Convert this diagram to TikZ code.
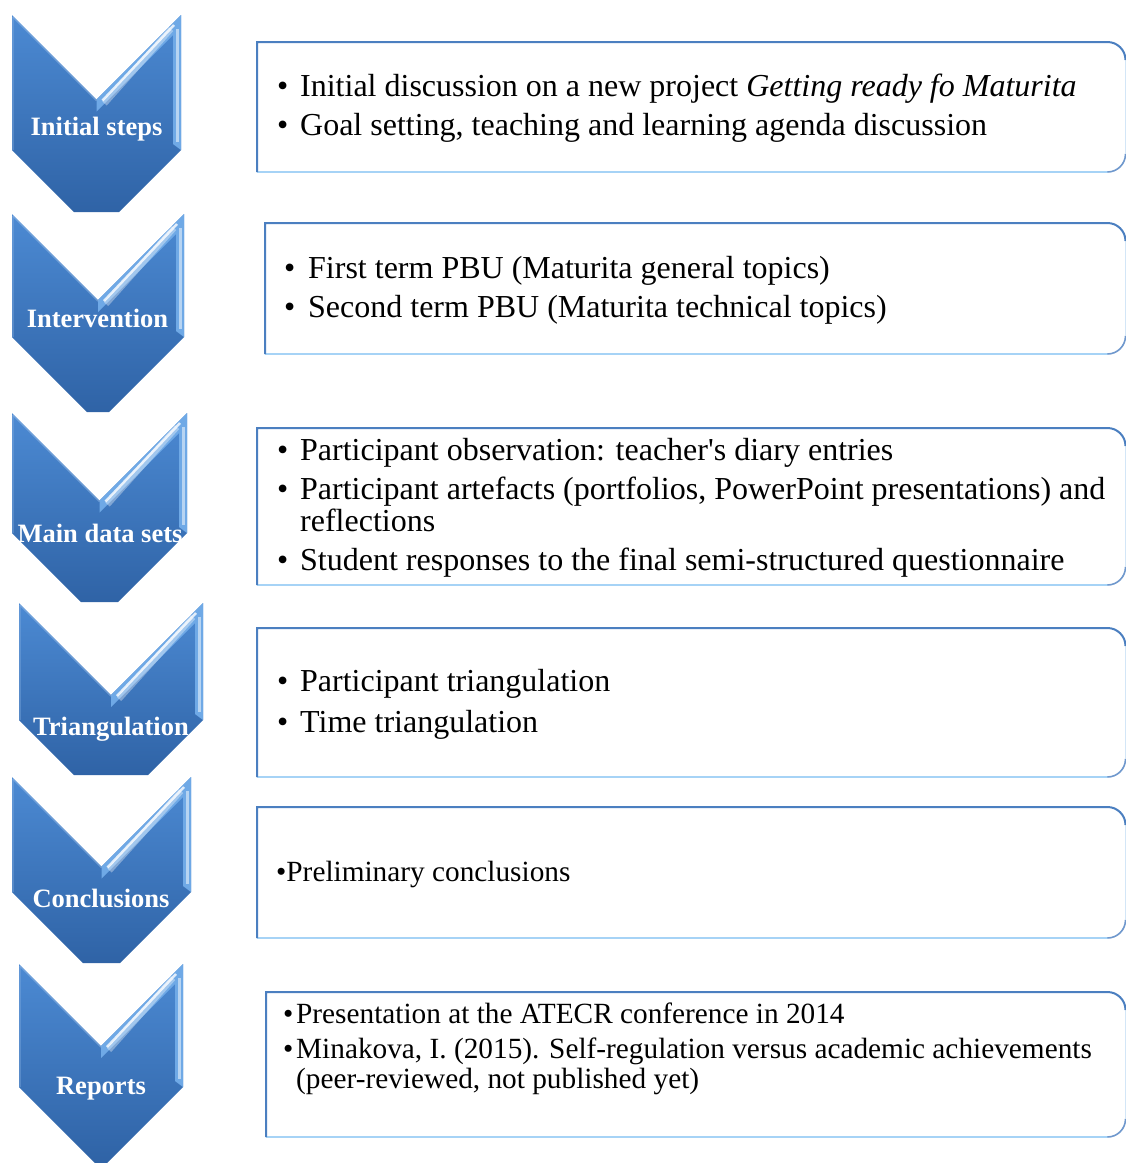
\documentclass[tikz,border=0pt]{standalone}
\usepackage{fontspec}
\setmainfont{Liberation Serif}
\definecolor{chevtop}{HTML}{4C8AD3}
\definecolor{chevmid}{HTML}{3C77C0}
\definecolor{chevbot}{HTML}{2F63A6}
\definecolor{bevel}{HTML}{6FA9E6}
\definecolor{boxedge}{HTML}{4B7FC0}
\definecolor{boxlow}{HTML}{A6D3F6}
\definecolor{boxside}{HTML}{D3E6F7}
\tikzset{
  chevfill/.style={top color=chevtop, middle color=chevmid, bottom color=chevbot},
  chevlabel/.style={text=white, font=\fontsize{26.5}{30}\selectfont\bfseries, anchor=base, inner sep=0pt},
  itemtext/.style={font=\fontsize{32}{38}\selectfont, anchor=base west, inner sep=0pt},
  smalltext/.style={font=\fontsize{29.3}{34}\selectfont, anchor=base west, inner sep=0pt},
  edgetop/.style={draw=boxedge, line width=2pt},
  edgelow/.style={draw=boxlow, line width=1.6pt},
  edgeside/.style={draw=boxside, line width=1.2pt},
}
% straight apostrophe, inserted as a glyph so no quote mapping applies
\newcommand\sqt{\XeTeXglyph\XeTeXcharglyph"27\relax}
% bullet set in a box of given width, followed by the item text
\newcommand\bul[2]{\makebox[#1][l]{\textbullet}#2}
% chevron pointing down: left x, right x, top y, side-bottom y, cut-off bottom y
\newcommand\drawchevron[5]{%
  \pgfmathsetmacro\cL{#1}\pgfmathsetmacro\cR{#2}\pgfmathsetmacro\cT{#3}%
  \pgfmathsetmacro\cS{#4}\pgfmathsetmacro\cB{#5}%
  \pgfmathsetmacro\cM{(\cL+\cR)/2}\pgfmathsetmacro\cN{\cT+(\cR-\cL)/2}%
  \pgfmathsetmacro\cD{\cB-\cS}%
  \shade[chevfill] (\cL,\cT) -- (\cM,\cN) -- (\cR,\cT) -- (\cR,\cS)
     -- ({\cR-\cD},\cB) -- ({\cL+\cD},\cB) -- (\cL,\cS) -- cycle;
  % bevel along the right-hand edges
  \fill[bevel] (\cM,\cN) -- (\cR,\cT) -- (\cR,\cS) -- ({\cR-8},{\cS-6})
     -- ({\cR-8},{\cT+20}) -- (\cM,{\cN+12}) -- cycle;
  \draw[white, opacity=0.35, line width=6pt]
     ({\cM+8},{\cN+4}) -- ({\cR-10},{\cT+14});
  \draw[white, opacity=0.8, line width=2.5pt]
     ({\cM+6},{\cN+1}) -- ({\cR-7},{\cT+10});
  \draw[white, opacity=0.5, line width=3pt]
     ({\cR-4},{\cT+14}) -- ({\cR-4},{\cS-8});
  \draw[chevtop!60!white, opacity=0.5, line width=1.5pt]
     ({\cL+1},{\cT+2}) -- (\cM,{\cN+1});
  \draw[chevtop!70!white, opacity=0.4, line width=1.5pt]
     ({\cL+1},{\cT+2}) -- ({\cL+1},{\cS});
}
% text panel: left x, top y, bottom y (square left corners, rounded right)
\newcommand\drawpanel[3]{%
  \pgfmathsetmacro\pL{#1}\pgfmathsetmacro\pT{#2}\pgfmathsetmacro\pB{#3}%
  \def\pR{1125.5}\def\pr{18}%
  \fill[white] (\pL,\pB) -- (\pL,\pT) -- ({\pR-\pr},\pT)
     .. controls ({\pR-0.45*\pr},\pT) and (\pR,{\pT+0.45*\pr}) .. (\pR,{\pT+\pr})
     -- (\pR,{\pB-\pr})
     .. controls (\pR,{\pB-0.45*\pr}) and ({\pR-0.45*\pr},\pB) .. ({\pR-\pr},\pB) -- cycle;
  \draw[edgeside] (\pR,{\pT+\pr}) -- (\pR,{\pB-\pr});
  \draw[edgelow] (\pL,\pB) -- ({\pR-\pr},\pB);
  \draw[boxedge!80!white, line width=1.6pt] ({\pR-\pr},\pB)
     .. controls ({\pR-0.45*\pr},\pB) and (\pR,{\pB-0.45*\pr}) .. (\pR,{\pB-\pr});
  \draw[edgetop] (\pL,\pB) -- (\pL,\pT) -- ({\pR-\pr},\pT)
     .. controls ({\pR-0.45*\pr},\pT) and (\pR,{\pT+0.45*\pr}) .. (\pR,{\pT+\pr});
}
\begin{document}
\begin{tikzpicture}[x=1pt, y=-1pt]
  \useasboundingbox (0,0) rectangle (1126,1163);
  \clip (0,0) rectangle (1126,1163);

  % stage chevrons
  \drawchevron{12}{181}{15}{150}{212}
  \drawchevron{12}{184}{214}{337}{412}
  \drawchevron{12}{187}{413}{533}{602}
  \drawchevron{19}{203}{603}{720}{775}
  \drawchevron{12}{191}{777}{892}{963}
  \drawchevron{19}{183}{964}{1087}{1163}

  \node[chevlabel] (c1) at (96.5,135) {Initial steps};
  \node[chevlabel] (c2) at (97.5,327) {Intervention};
  \node[chevlabel] (c3) at (100,542) {Main data sets};
  \node[chevlabel] (c4) at (111,735) {Triangulation};
  \node[chevlabel] (c5) at (101,907) {Conclusions};
  \node[chevlabel] (c6) at (101,1094) {Reports};

  % text panels
  \drawpanel{257}{42}{172}
  \drawpanel{265}{223}{354}
  \drawpanel{257}{428}{585}
  \drawpanel{257}{628}{777}
  \drawpanel{257}{807}{938}
  \drawpanel{266}{992}{1137}

  \node[itemtext] (p1a) at (277,96) {\bul{23pt}{Initial discussion on a new project \textit{Getting ready fo Maturita}}};
  \node[itemtext] (p1b) at (277,135) {\bul{23pt}{Goal setting, teaching and learning agenda discussion}};

  \node[itemtext] (p2a) at (284,278) {\bul{24pt}{First term PBU (Maturita general topics)}};
  \node[itemtext] (p2b) at (284,317) {\bul{24pt}{Second term PBU (Maturita technical topics)}};

  \node[itemtext] (p3a) at (277,460) {\bul{23pt}{Participant observation: teacher\sqt s diary entries}};
  \node[itemtext] (p3b) at (277,499) {\bul{23pt}{Participant artefacts (portfolios, PowerPoint presentations) and}};
  \node[itemtext] (p3c) at (300,531) {reflections};
  \node[itemtext] (p3d) at (277,570) {\bul{23pt}{Student responses to the final semi-structured questionnaire}};

  \node[itemtext] (p4a) at (277,691) {\bul{23pt}{Participant triangulation}};
  \node[itemtext] (p4b) at (277,732) {\bul{23pt}{Time triangulation}};

  \node[smalltext] (p5a) at (276,881) {\textbullet Preliminary conclusions};

  \node[smalltext] (p6a) at (283,1023) {\bul{13pt}{Presentation at the ATECR conference in 2014}};
  \node[smalltext] (p6b) at (283,1058) {\bul{13pt}{Minakova, I. (2015). Self-regulation versus academic achievements}};
  \node[smalltext] (p6c) at (296,1088) {(peer-reviewed, not published yet)};
\end{tikzpicture}
\end{document}
